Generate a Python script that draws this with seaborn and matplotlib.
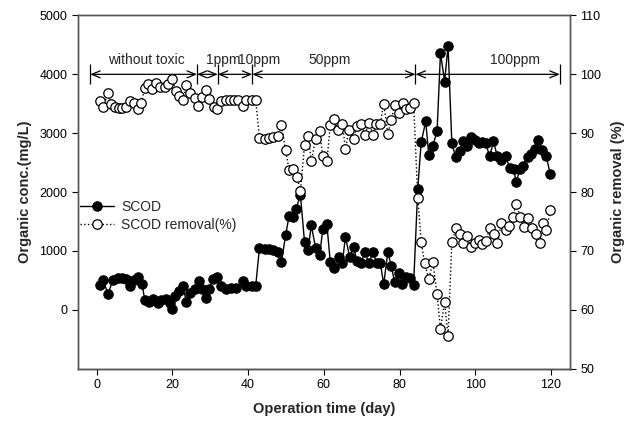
import numpy as np
import pandas as pd
import matplotlib
matplotlib.use('Agg')
import matplotlib.pyplot as plt
import seaborn as sns

# SCOD (mg/L)
scodDay = [0.8, 1.7, 3.0, 4.3, 5.6, 6.8, 7.8, 8.9, 9.8, 10.9, 12.0, 12.7, 13.9, 15.0, 16.2, 17.1, 18.2, 19.3, 20.0, 20.6,
           21.7, 22.8, 23.7, 24.7, 25.9, 26.9, 27.9, 28.8, 29.8, 30.7, 31.8, 32.9, 34.2, 35.6, 36.9, 38.6, 39.5, 40.9, 42.0,
           43.0, 44.4, 45.5, 46.6, 47.9, 48.8, 49.9, 50.8, 51.8, 52.7, 53.8, 54.9, 55.8, 56.7, 57.8, 58.9, 59.7, 60.8,
           61.7, 62.8, 63.9, 64.9, 65.7, 66.8, 67.9, 68.7, 69.9, 70.8, 71.9, 73.0, 74.0, 74.9, 75.8, 76.9, 77.8, 78.7,
           79.8, 80.7, 81.8, 82.8, 83.7,
           84.8, 85.7, 86.9, 87.7, 88.8, 89.9, 90.8, 91.9, 92.8, 93.8, 94.8, 95.9, 96.7, 97.9, 98.8, 99.8, 100.9, 101.8,
           102.7, 103.8, 104.8, 105.8, 106.9, 108.0, 109.1, 110.1, 110.8, 111.8, 112.7, 113.8, 114.8, 115.7, 116.6,
           117.7, 118.7, 119.8]
scod = [415, 505, 263, 505, 546, 546, 517, 403, 505, 562, 432, 166, 132, 178, 110, 166, 178, 110, 8, 224,
        318, 403, 122, 291, 359, 488, 347, 206, 359, 517, 562, 403, 359, 376, 376, 488, 403, 403, 403,
        1054, 1037, 1025, 1013, 979, 810, 1262, 1590, 1580, 1715, 1957, 1149, 1013, 1432, 1054, 924, 1364, 1449,
        810, 715, 901, 800, 1240, 901, 1071, 827, 800, 979, 788, 979, 788, 800, 432, 979, 742, 471,
        630, 432, 562, 545, 415,
        2054, 2844, 3200, 2636, 2788, 3030, 4359, 3878, 4483, 2834, 2590, 2691, 2861, 2776, 2929, 2890, 2834, 2844,
        2834, 2607, 2861, 2607, 2551, 2607, 2410, 2393, 2166, 2393, 2450, 2600, 2640, 2730, 2880,
        2720, 2620, 2300]

# SCOD removal (%)
remDay = [0.8, 1.7, 3.0, 3.9, 4.8, 5.9, 6.8, 7.8, 8.9, 9.8, 10.9, 11.8, 12.7, 13.5, 14.7, 15.8, 16.8, 18.0, 18.8, 20.0,
          20.9, 21.7, 22.8, 23.7, 24.7, 25.9, 26.7, 27.9, 28.8, 29.8, 31.0, 31.9, 32.9, 34.1, 35.1, 36.2, 37.3, 38.6,
          39.5, 40.9, 42.0,
          43.0, 44.4, 45.5, 46.6, 47.9, 48.8, 49.9, 50.8, 51.8, 52.9, 53.8, 54.9, 55.8, 56.7, 57.8, 58.9, 59.7, 60.8,
          61.7, 62.8, 63.7, 64.9, 65.7, 66.6, 67.9, 68.7, 69.9, 70.8, 71.9, 73.0, 73.9, 74.9, 75.8, 76.9, 77.8, 78.7,
          79.8, 80.9, 81.8, 82.8, 83.7,
          84.8, 85.7, 86.6, 87.7, 88.8, 89.9, 90.8, 91.9, 92.8, 93.8, 95.0, 95.9, 96.7, 97.9, 98.8, 99.8, 100.9, 101.8,
          102.9, 103.8, 104.9, 105.8, 106.9, 108.0, 108.9, 109.9, 110.8, 111.8, 112.9, 114.0, 115.0, 116.0, 117.0,
          117.9, 118.8, 119.8]
removal = [95.5, 94.4, 96.9, 95.0, 94.4, 94.3, 94.3, 94.4, 95.5, 95.2, 94.1, 95.2, 97.7, 98.4, 97.5, 98.6, 97.8, 97.8, 98.3, 99.2,
           97.2, 96.4, 95.6, 98.2, 96.8, 96.0, 94.7, 96.2, 97.4, 95.8, 94.4, 94.1, 95.4, 95.7, 95.7, 95.6, 95.6, 94.7,
           95.6, 95.6, 95.6,
           89.2, 89.0, 89.2, 89.4, 89.6, 91.4, 87.1, 83.8, 83.9, 82.6, 80.1, 88.0, 89.5, 85.3, 89.0, 90.3, 86.1, 85.2,
           91.4, 92.4, 90.6, 91.6, 87.3, 90.5, 89.0, 91.3, 91.6, 89.7, 91.8, 89.7, 91.6, 91.6, 95.0, 89.9, 92.2, 94.8,
           93.5, 95.1, 94.1, 94.3, 95.2,
           79.0, 71.5, 68.0, 65.2, 68.1, 62.6, 56.7, 61.3, 55.5, 71.5, 73.9, 72.8, 71.3, 72.6, 70.6, 71.3, 71.8, 71.1,
           71.7, 73.9, 72.8, 71.3, 74.7, 73.6, 74.2, 75.8, 78.0, 75.8, 74.1, 75.6, 73.9, 72.8, 71.3,
           74.7, 73.6, 76.9]

# toxic dosing phases (day boundaries) and their labels
phaseEdges = [-1.7, 26.5, 32.0, 41.1, 84.2, 122.3]
phaseLabels = ['without toxic', '1ppm', '10ppm', '50ppm', '100ppm']
labelDay = [13.1, 33.5, 42.8, 61.5, 110.4]

scodDf = pd.DataFrame({'day': scodDay, 'scod': scod})
remDf = pd.DataFrame({'day': remDay, 'removal': removal})

sns.set_style('ticks')
plt.rcParams['font.family'] = ['Liberation Sans', 'DejaVu Sans']

fig, ax = plt.subplots(figsize=(6.35, 4.28), dpi=100)
fig.subplots_adjust(left=0.1224, right=0.8976, top=0.9638, bottom=0.139)
ax2 = ax.twinx()

sns.lineplot(data=scodDf, x='day', y='scod', ax=ax, color='black', lw=1.0, marker='o', markersize=6.8,
             markerfacecolor='black', markeredgecolor='black', estimator=None, sort=False, label='SCOD', legend=False)
sns.lineplot(data=remDf, x='day', y='removal', ax=ax2, color='black', lw=1.0, ls=':', marker='o', markersize=6.8,
             markerfacecolor='white', markeredgecolor='black', markeredgewidth=0.9, estimator=None, sort=False,
             label='SCOD removal(%)', legend=False)

ax.set_xlim(-5, 125)
ax.set_ylim(-1000, 5000)
ax2.set_ylim(50, 110)
ax.set_xticks(np.arange(0, 121, 20))
ax.set_yticks(np.arange(0, 5001, 1000))
ax2.set_yticks(np.arange(50, 111, 10))

ax.set_xlabel('Operation time (day)', fontsize=10.5, fontweight='bold', labelpad=8)
ax.set_ylabel('Organic conc.(mg/L)', fontsize=10.5, fontweight='bold', labelpad=5)
ax2.set_ylabel('Organic removal (%)', fontsize=10.5, fontweight='bold', labelpad=7)

for a in (ax, ax2):
    a.tick_params(direction='out', length=4, width=0.8, labelsize=9, colors='black')
    for s in a.spines.values():
        s.set_linewidth(1.0)
        s.set_color('#555555')
ax.spines['bottom'].set_color('black')

# phase arrows
yArrow = 4000
for i in range(len(phaseLabels)):
    ax.annotate('', xy=(phaseEdges[i], yArrow), xytext=(phaseEdges[i + 1], yArrow),
                arrowprops=dict(arrowstyle='<->,head_length=0.6,head_width=0.25', color='black', lw=0.9,
                                shrinkA=0, shrinkB=0, mutation_scale=10))
    ax.text(labelDay[i], 4240, phaseLabels[i], ha='center', va='center', fontsize=10)
ax.vlines(phaseEdges, 3830, 4170, color='black', lw=0.9)

h1, l1 = ax.get_legend_handles_labels()
h2, l2 = ax2.get_legend_handles_labels()
ax2.legend(h1 + h2, l1 + l2, loc='center left', bbox_to_anchor=(0.005, 0.432), frameon=False, fontsize=10,
           handlelength=2.4, handletextpad=0.55, labelspacing=0.25, borderaxespad=0, borderpad=0)

plt.savefig('out.png', dpi=100)
